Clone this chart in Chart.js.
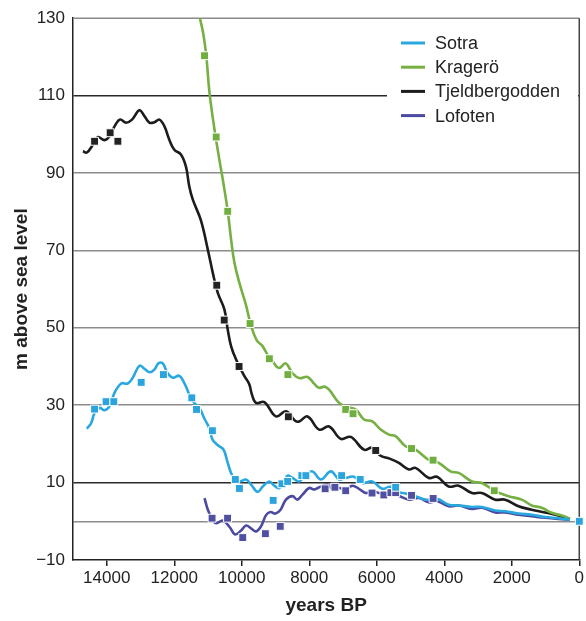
<!DOCTYPE html>
<html>
<head>
<meta charset="utf-8">
<script src="https://cdn.jsdelivr.net/npm/chart.js@4.4.1/dist/chart.umd.min.js"></script>
<style>
    html, body { margin: 0; padding: 0; background: #fff; }
    #chart { display: block; }
</style>
</head>
<body>
<canvas id="chart" width="586" height="621"></canvas>
<script>
// --- Data (years BP, m above sea level) ---
const seriesNames = ['Sotra', 'Kragerö', 'Tjeldbergodden', 'Lofoten'];
const xTicks = [14000, 12000, 10000, 8000, 6000, 4000, 2000, 0];
const yTicks = [-10, 0, 10, 30, 50, 70, 90, 110, 130];

const sotraCurve = [
    [14590, 23.9], [14460, 25.4], [14360, 28.0], [14210, 29.3], [14070, 28.7], [13920, 29.7],
    [13770, 33.2], [13570, 35.6], [13380, 35.6], [13230, 37.1], [13030, 40.2], [12880, 39.4],
    [12720, 38.5], [12590, 39.2], [12460, 40.9], [12340, 40.8], [12200, 38.3], [12045, 37.1],
    [11850, 37.6], [11680, 35.3], [11550, 32.7], [11410, 30.6], [11255, 29.3], [11105, 26.5],
    [11010, 25.0], [10950, 23.7], [10865, 21.1], [10715, 19.7], [10540, 18.5], [10415, 15.1],
    [10267, 11.6], [10070, 10.3], [9873, 10.8], [9725, 9.5], [9529, 7.6], [9380, 9.0],
    [9183, 10.3], [9036, 9.2], [8888, 8.6], [8741, 10.3], [8643, 11.8], [8495, 11.2],
    [8298, 10.3], [8100, 12.1], [7905, 12.9], [7657, 10.8], [7362, 12.9], [7117, 10.8],
    [6919, 11.2], [6674, 11.5], [6429, 9.9], [6133, 10.3], [5838, 8.4], [5590, 8.9],
    [5345, 7.5], [5147, 7.2], [4852, 6.5], [4557, 5.6], [4214, 5.8], [3868, 4.3],
    [3573, 4.1], [3180, 3.7], [2885, 3.7], [2489, 2.8], [2194, 2.6], [1801, 2.0],
    [1409, 1.7], [1013, 1.1], [620, 0.8], [275, 0.4]
];
const sotraObs = [
    [14360, 29.0], [14020, 30.9], [13790, 30.9], [12980, 35.9], [12320, 37.9], [11480, 31.9],
    [11340, 28.9], [10870, 23.4], [10190, 10.8], [10070, 8.5], [9070, 5.4], [8810, 9.7],
    [8640, 10.3], [8220, 11.8], [8100, 11.8], [7040, 11.8], [6490, 10.8], [5440, 8.8], [0, 0.0]
];

const krageroCurve = [
    [11290, 133.0], [11250, 130.5], [11140, 126.0], [11050, 120.2], [10955, 110.7], [10807, 101.2],
    [10680, 94.3], [10562, 88.3], [10415, 80.1], [10315, 72.8], [10217, 66.8], [10070, 61.6],
    [9873, 55.8], [9725, 50.6], [9560, 46.8], [9380, 45.2], [9183, 42.2], [9086, 41.3],
    [8900, 39.6], [8700, 40.8], [8500, 38.3], [8300, 37.0], [8050, 37.3], [7850, 35.5],
    [7707, 34.5], [7550, 34.8], [7412, 34.0], [7117, 30.6], [6900, 29.6], [6623, 28.9],
    [6378, 26.3], [6133, 25.8], [5885, 23.7], [5640, 22.4], [5442, 22.0], [5147, 19.4],
    [4852, 18.5], [4459, 15.9], [4164, 15.1], [3818, 12.9], [3573, 12.5], [3180, 10.3],
    [2885, 9.9], [2489, 7.8], [2097, 6.5], [1704, 5.6], [1409, 4.1], [1113, 3.5],
    [818, 2.2], [523, 1.5], [275, 0.7]
];
const krageroObs = [
    [11103, 120.3], [10758, 99.3], [10415, 80.1], [9754, 51.1], [9183, 42.0], [8632, 37.9],
    [6919, 28.9], [6703, 27.8], [4970, 18.8], [4332, 15.8], [2519, 7.9]
];

const tjeldCurve = [
    [14706, 95.6], [14588, 95.3], [14411, 97.3], [14263, 99.3], [14066, 98.5], [13918, 99.5],
    [13740, 102.5], [13604, 103.8], [13427, 103.0], [13250, 103.8], [13032, 106.2], [12884, 104.7],
    [12737, 103.0], [12589, 103.1], [12441, 103.8], [12293, 102.1], [12146, 98.6], [11998, 96.0],
    [11803, 94.8], [11655, 91.7], [11556, 86.6], [11450, 83.1], [11212, 77.8], [11006, 70.2],
    [10858, 64.2], [10710, 59.0], [10513, 54.7], [10415, 49.5], [10315, 45.2], [10168, 41.8],
    [9922, 37.5], [9780, 35.5], [9700, 32.8], [9577, 30.6], [9331, 30.8], [8986, 27.1],
    [8690, 28.4], [8420, 26.0], [8300, 25.8], [8050, 27.1], [7707, 23.7], [7412, 24.5],
    [7067, 21.3], [6771, 21.8], [6378, 18.5], [6133, 19.0], [5900, 17.0], [5620, 16.2],
    [5345, 15.1], [5050, 13.4], [4852, 13.8], [4459, 11.2], [4214, 11.5], [3868, 9.0],
    [3573, 9.2], [3180, 7.3], [2885, 7.3], [2489, 5.6], [2194, 5.6], [1801, 3.9],
    [1409, 3.0], [1013, 2.3], [620, 1.5], [275, 0.6]
];
const tjeldObs = [
    [14360, 98.2], [13900, 100.4], [13670, 98.2], [10740, 61.0], [10520, 52.0], [10080, 40.0],
    [8620, 27.0], [6030, 18.3]
];

const lofotenCurve = [
    [11103, 6.0], [11005, 3.0], [10858, 0.2], [10750, -0.5], [10560, 0.2], [10350, -1.6],
    [10200, -3.4], [10020, -2.4], [9870, -1.1], [9725, -1.8], [9577, -2.6], [9430, -1.3],
    [9281, 1.6], [9150, 2.4], [9000, 2.0], [8850, 3.0], [8690, 5.6], [8500, 6.5],
    [8350, 5.6], [8200, 6.9], [8003, 8.6], [7855, 8.2], [7657, 9.0], [7461, 9.5],
    [7313, 8.4], [7117, 8.6], [6919, 8.2], [6724, 9.2], [6526, 8.4], [6328, 7.3],
    [6133, 7.8], [5935, 7.3], [5738, 6.9], [5542, 7.3], [5345, 6.6], [5050, 5.6],
    [4754, 6.0], [4459, 4.9], [4214, 5.2], [3868, 3.9], [3573, 4.1], [3180, 3.2],
    [2885, 3.5], [2489, 2.3], [2194, 2.3], [1801, 1.7], [1409, 1.3], [1013, 0.9],
    [620, 0.6], [275, 0.4]
];
const lofotenObs = [
    [10880, 0.8], [10420, 0.8], [9970, -4.2], [9300, -3.2], [8860, -1.3], [7530, 8.4],
    [7240, 8.8], [6920, 7.9], [6140, 7.3], [5790, 6.8], [5580, 7.4], [5440, 7.4],
    [4970, 6.7], [4330, 5.9]
];

// --- Styles ---
const lineColors = ['#29a8df', '#76b043', '#1c1c1c', '#4b4aa0'];
const markColors = ['#2ba3dc', '#6fae3f', '#222222', '#5050a2'];
const FONT = "'Liberation Sans', Arial, Helvetica, sans-serif";

const toXY = arr => arr.map(p => ({ x: p[0], y: p[1] }));

function curveSet(i, data) {
    return {
        label: seriesNames[i],
        data: toXY(data),
        borderColor: lineColors[i],
        borderWidth: 2.6,
        pointRadius: 0,
        tension: 0.4,
        fill: false,
        order: 2
    };
}

function obsSet(i, data) {
    return {
        label: seriesNames[i] + ' obs',
        data: toXY(data),
        showLine: false,
        pointStyle: 'rect',
        pointRadius: 5.6,
        backgroundColor: markColors[i],
        borderColor: '#ffffff',
        borderWidth: 1,
        clip: false,
        order: 1
    };
}

// frame (top + right) and legend box inside plot
const framePlugin = {
    id: 'frame',
    beforeDatasetsDraw(chart) {
        const { ctx, chartArea: a } = chart;
        ctx.save();
        ctx.lineWidth = 1.5;
        ctx.strokeStyle = '#8a8a8a';
        ctx.beginPath(); ctx.moveTo(a.left, a.top); ctx.lineTo(a.right, a.top); ctx.stroke();
        ctx.strokeStyle = '#444';
        ctx.beginPath(); ctx.moveTo(a.right, a.top); ctx.lineTo(a.right, a.bottom); ctx.stroke();
        ctx.restore();
    },
    afterDatasetsDraw(chart) {
        const { ctx } = chart;
        ctx.save();
        ctx.fillStyle = '#fff';
        ctx.fillRect(387, 27, 191, 102);
        ctx.font = '18px ' + FONT;
        ctx.textBaseline = 'middle';
        ctx.textAlign = 'left';
        seriesNames.forEach((name, i) => {
            const y = 43 + i * 24.2;
            ctx.strokeStyle = lineColors[i];
            ctx.lineWidth = 3;
            ctx.beginPath(); ctx.moveTo(401, y); ctx.lineTo(425, y); ctx.stroke();
            ctx.fillStyle = '#222';
            ctx.fillText(name, 435, y + 1);
        });
        ctx.restore();
    }
};

const ctx = document.getElementById('chart').getContext('2d');

new Chart(ctx, {
    type: 'line',
    data: {
        datasets: [
            curveSet(0, sotraCurve), curveSet(1, krageroCurve), curveSet(2, tjeldCurve), curveSet(3, lofotenCurve),
            obsSet(0, sotraObs), obsSet(1, krageroObs), obsSet(2, tjeldObs), obsSet(3, lofotenObs)
        ]
    },
    options: {
        responsive: false,
        animation: false,
        devicePixelRatio: 1,
        layout: { padding: { top: 17, right: 6, left: 0, bottom: 0 } },
        plugins: {
            legend: { display: false },
            tooltip: { enabled: false }
        },
        scales: {
            x: {
                type: 'linear',
                min: 0,
                max: 15000,
                reverse: true,
                afterBuildTicks: axis => { axis.ticks = xTicks.map(v => ({ value: v })); },
                afterFit: axis => { axis.height = 61; },
                ticks: {
                    callback: v => String(v),
                    color: '#222',
                    font: { family: FONT, size: 17 },
                    padding: 2,
                    maxRotation: 0,
                    autoSkip: false
                },
                grid: { drawOnChartArea: false, drawTicks: true, tickLength: 6, color: '#222', lineWidth: 1.5 },
                border: { color: '#222', width: 1.5 },
                title: {
                    display: true,
                    text: 'years BP',
                    color: '#222',
                    font: { family: FONT, size: 19, weight: 'bold' },
                    padding: { top: 0, bottom: 4 }
                }
            },
            y: {
                min: -10,
                max: 130,
                afterBuildTicks: axis => { axis.ticks = yTicks.map(v => ({ value: v })); },
                afterFit: axis => { axis.width = 73; },
                ticks: {
                    callback: v => v === 0 ? '' : (v < 0 ? '\u2212' + Math.abs(v) : String(v)),
                    color: '#222',
                    font: { family: FONT, size: 17 },
                    padding: 8,
                    autoSkip: false
                },
                grid: {
                    drawTicks: false,
                    lineWidth: 1.5,
                    color: c => {
                        const v = c.tick.value;
                        if (v === 130 || v === -10) return 'rgba(0,0,0,0)';
                        if (v === 110 || v === 10) return '#2a2a2a';
                        return '#8c8c8c';
                    }
                },
                border: { color: '#222', width: 1.5 },
                title: {
                    display: true,
                    text: 'm above sea level',
                    color: '#222',
                    font: { family: FONT, size: 19, weight: 'bold' },
                    padding: { top: 10, bottom: 0 }
                }
            }
        }
    },
    plugins: [framePlugin]
});
</script>
</body>
</html>
